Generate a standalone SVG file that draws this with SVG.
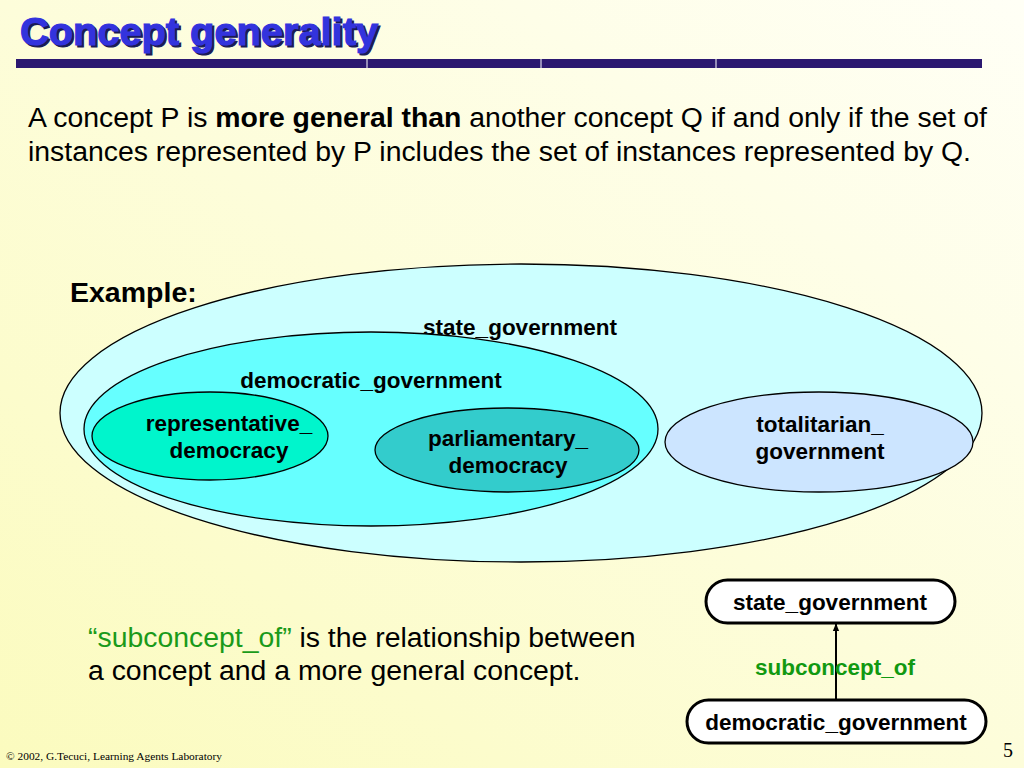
<svg xmlns="http://www.w3.org/2000/svg" width="1024" height="768" viewBox="0 0 1024 768">
<defs>
<linearGradient id="bg" x1="1" y1="0" x2="0" y2="1">
<stop offset="0" stop-color="#fffff6"/>
<stop offset="1" stop-color="#fbfbbe"/>
</linearGradient>
<marker id="arr" viewBox="0 0 10 10" refX="9" refY="5" markerWidth="8" markerHeight="8" orient="auto" markerUnits="userSpaceOnUse">
<path d="M0,1 L10,5 L0,9 z" fill="#000"/>
</marker>
<style>
.lbl{font-family:"Liberation Sans",Arial,sans-serif;font-weight:bold;font-size:22.5px;fill:#000;text-anchor:middle}
.ell{stroke:#000;stroke-width:1.3}
.body{font-family:"Liberation Sans",Arial,sans-serif;font-size:28.4px;fill:#000}
.pill{fill:#fff;stroke:#000;stroke-width:3}
</style>
</defs>
<rect width="1024" height="768" fill="url(#bg)"/>
<g id="title">
<text x="22" y="47" font-family="Liberation Sans,Arial,sans-serif" font-weight="bold" font-size="38" fill="#1a1a55" stroke="#1a1a55" stroke-width="1.2" textLength="358" lengthAdjust="spacingAndGlyphs">Concept generality</text>
<text x="20" y="45" font-family="Liberation Sans,Arial,sans-serif" font-weight="bold" font-size="38" fill="#3333dd" stroke="#3333dd" stroke-width="1.2" textLength="358" lengthAdjust="spacingAndGlyphs">Concept generality</text>
</g>
<g id="bar">
<rect x="16" y="59" width="966" height="9" fill="#2b1870"/>
<line x1="367" y1="59" x2="367" y2="68" stroke="#fff" stroke-width="1"/>
<line x1="541" y1="59" x2="541" y2="68" stroke="#fff" stroke-width="1"/>
<line x1="716" y1="59" x2="716" y2="68" stroke="#fff" stroke-width="1"/>
</g>
<g id="definition" class="body">
<text x="28" y="127" textLength="959" lengthAdjust="spacingAndGlyphs">A concept P is <tspan font-weight="bold">more general than</tspan> another concept Q if and only if the set of</text>
<text x="28" y="161" textLength="943" lengthAdjust="spacingAndGlyphs">instances represented by P includes the set of instances represented by Q.</text>
</g>
<text x="70" y="302" font-family="Liberation Sans,Arial,sans-serif" font-weight="bold" font-size="28.5" fill="#000">Example:</text>
<g id="state_government_set">
<ellipse class="ell" cx="521" cy="413" rx="461" ry="149" fill="#ccffff"/>
<text class="lbl" x="520" y="335">state_government</text>
</g>
<g id="democratic_government_set">
<ellipse class="ell" cx="371" cy="429" rx="287" ry="97" fill="#66ffff"/>
<text class="lbl" x="371" y="388">democratic_government</text>
</g>
<g id="representative_democracy">
<ellipse class="ell" cx="210" cy="436" rx="118" ry="44" fill="#00f5cc"/>
<text class="lbl" x="229" y="431">representative_</text>
<text class="lbl" x="229" y="458">democracy</text>
</g>
<g id="parliamentary_democracy">
<ellipse class="ell" cx="507" cy="450" rx="132" ry="42" fill="#33cccc"/>
<text class="lbl" x="508" y="446">parliamentary_</text>
<text class="lbl" x="508" y="473">democracy</text>
</g>
<g id="totalitarian_government">
<ellipse class="ell" cx="819" cy="442" rx="154" ry="50" fill="#cce5ff"/>
<text class="lbl" x="820" y="432">totalitarian_</text>
<text class="lbl" x="820" y="459">government</text>
</g>
<g id="relation_text" class="body">
<text x="88" y="647"><tspan fill="#1a9a1a">“subconcept_of”</tspan> is the relationship between</text>
<text x="88" y="680">a concept and a more general concept.</text>
</g>
<g id="connectors">
<line x1="836" y1="700" x2="836" y2="624" stroke="#000" stroke-width="2" marker-end="url(#arr)"/>
<text x="835" y="675" font-family="Liberation Sans,Arial,sans-serif" font-weight="bold" font-size="22.5" fill="#119911" text-anchor="middle">subconcept_of</text>
</g>
<g id="node_state_government">
<rect class="pill" x="706" y="580" width="249" height="43" rx="21.5"/>
<text class="lbl" x="830" y="610">state_government</text>
</g>
<g id="node_democratic_government">
<rect class="pill" x="687" y="700" width="299" height="43" rx="21.5"/>
<text class="lbl" x="836" y="730">democratic_government</text>
</g>
<text x="1003" y="757" font-family="Liberation Serif,serif" font-size="20" fill="#000">5</text>
<text x="6" y="760" font-family="Liberation Serif,serif" font-size="11.4" fill="#000">© 2002, G.Tecuci, Learning Agents Laboratory</text>
</svg>
